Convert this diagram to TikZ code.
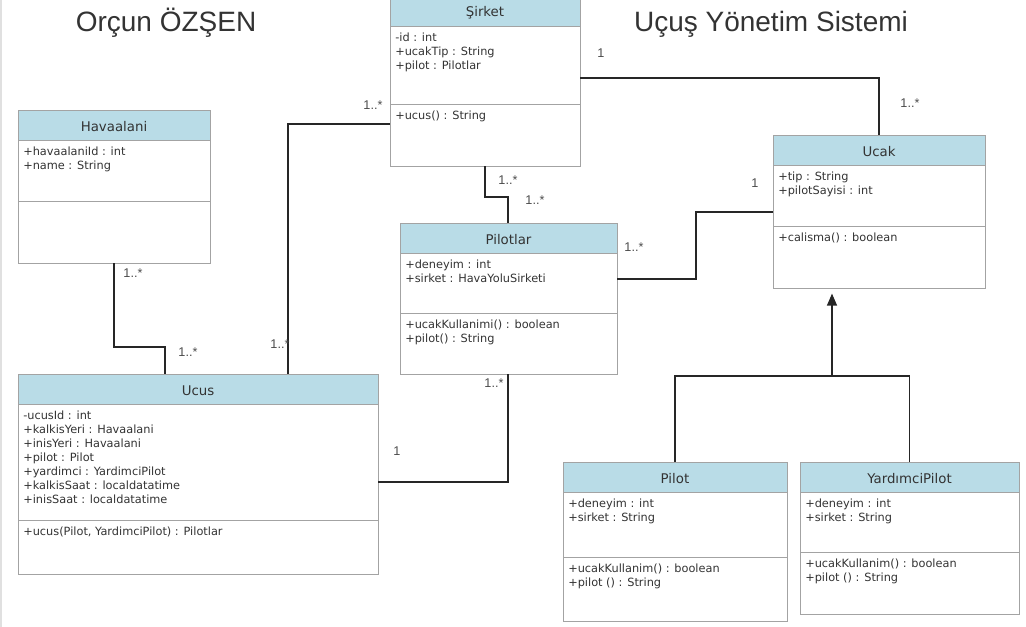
\documentclass[tikz,border=0pt]{standalone}
\usepackage{fontspec}
\setmainfont{DejaVu Sans}
\newfontfamily\labelfont{Liberation Sans}
\usetikzlibrary{arrows.meta,fit}

\definecolor{headblue}{HTML}{B9DCE7}
\definecolor{boxgray}{HTML}{A3A3A3}
\definecolor{txtgray}{HTML}{333333}

% class box: name, x1, y1, x2, y2, separator y, title, attributes, methods
\newcommand{\umlclass}[9]{%
  \fill[headblue] (#2,#3) rectangle (#4,#3+30);
  \draw[boxgray] (#2,#3) rectangle (#4,#5);
  \draw[boxgray] (#2,#3+30) -- (#4,#3+30) (#2,#6) -- (#4,#6);
  \node[classname] at ({(#2+#4)/2},#3+17) {#7};
  \node[members] at (#2+5,#3+37) {#8};
  \node[members] at (#2+5,#6+7) {#9};
  \node[fit={(#2,#3) (#4,#5)}, inner sep=0pt] (#1) {};
}

\begin{document}
\begin{tikzpicture}[x=0.75pt,y=-0.75pt,
    classname/.style={font=\fontsize{10}{12}\selectfont, text=txtgray},
    members/.style={anchor=north west, inner sep=0pt, align=left,
      font=\fontsize{8.5}{10.5}\selectfont, text=txtgray},
    assoc/.style={draw=black!85, line width=0.9pt},
    inherit/.style={assoc, -{Triangle[length=9pt,width=7.5pt]}, shorten >=4pt},
    mult/.style={font=\labelfont\fontsize{9.5}{11}\selectfont, text=black!70},
    heading/.style={font=\labelfont\fontsize{21}{25}\selectfont, text=txtgray, anchor=base}]
  \useasboundingbox (0,0) rectangle (1026,627);
  \draw[black!12, line width=1.5pt] (1,0) -- (1,627);

  \node[heading] (author) at (166,32) {Orçun ÖZŞEN};
  \node[heading] (system) at (771,32) {Uçuş Yönetim Sistemi};

  \umlclass{sirket}{390}{-4}{580}{166}{104}{Şirket}
    {-id : int\\+ucakTip : String\\+pilot : Pilotlar}{+ucus() : String}
  \umlclass{hava}{18}{110}{210}{263}{201}{Havaalani}
    {+havaalaniId : int\\+name : String}{}
  \umlclass{ucus}{18}{374}{378}{574}{520}{Ucus}
    {-ucusId : int\\+kalkisYeri : Havaalani\\+inisYeri : Havaalani\\+pilot : Pilot\\
     +yardimci : YardimciPilot\\+kalkisSaat : localdatatime\\+inisSaat : localdatatime}
    {+ucus(Pilot, YardimciPilot) : Pilotlar}
  \umlclass{pilotlar}{400}{223}{617}{374}{313}{Pilotlar}
    {+deneyim : int\\+sirket : HavaYoluSirketi}{+ucakKullanimi() : boolean\\+pilot() : String}
  \umlclass{ucak}{773}{135}{985}{288}{226}{Ucak}
    {+tip : String\\+pilotSayisi : int}{+calisma() : boolean}
  \umlclass{pilot}{563}{462}{787}{621}{557}{Pilot}
    {+deneyim : int\\+sirket : String}{+ucakKullanim() : boolean\\+pilot () : String}
  \umlclass{yard}{800}{462}{1019}{614}{552}{YardımciPilot}
    {+deneyim : int\\+sirket : String}{+ucakKullanim() : boolean\\+pilot () : String}

  % bends
  \coordinate (hu) at (165,347);
  \coordinate (su) at (288,124);
  \coordinate (sk) at (879,78);
  \coordinate (sp1) at (485,197);
  \coordinate (sp2) at (508,197);
  \coordinate (pk1) at (696,279);
  \coordinate (pk2) at (696,212);
  \coordinate (pu) at (508,482);
  \coordinate (g) at (832,376);

  \draw[assoc] (hava.south) |- (hu) -- (hu |- ucus.north);
  \draw[assoc] (su -| sirket.west) -- (su) -- (su |- ucus.north);
  \draw[assoc] (sk -| sirket.east) -- (sk) -- (sk |- ucak.north);
  \draw[assoc] (sp1 |- sirket.south) -- (sp1) -- (sp2) -- (sp2 |- pilotlar.north);
  \draw[assoc] (pk1 -| pilotlar.east) -- (pk1) -- (pk2) -- (pk2 -| ucak.west);
  \draw[assoc] (pu |- pilotlar.south) -- (pu) -- (pu -| ucus.east);
  \draw[assoc] (pilot.north) |- (g);
  \draw[assoc] (yard.north) |- (g);
  \draw[inherit] (g) -- (g |- ucak.south);

  % multiplicities
  \node[mult] at (133,273) {1..*};
  \node[mult] at (188,352) {1..*};
  \node[mult] at (373,105) {1..*};
  \node[mult] at (280,344) {1..*};
  \node[mult] at (601,53) {1};
  \node[mult] at (910,103) {1..*};
  \node[mult] at (508,180) {1..*};
  \node[mult] at (535,200) {1..*};
  \node[mult] at (634,247) {1..*};
  \node[mult] at (755,183) {1};
  \node[mult] at (494,383) {1..*};
  \node[mult] at (397,451) {1};
\end{tikzpicture}
\end{document}
